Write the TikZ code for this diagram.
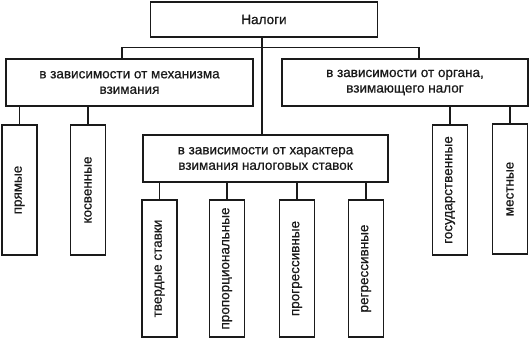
\documentclass[tikz,border=0pt]{standalone}
\usepackage{fontspec}
\setmainfont{Liberation Sans}
\newfontfamily\schemefont[FakeBold=0.7]{Liberation Sans}
\usetikzlibrary{positioning}
\definecolor{SchemeInk}{HTML}{1A1A1A}
\tikzset{
  scheme/.style={x=1pt,y=-1pt,font=\schemefont\fontsize{13.5}{15.5}\selectfont,text=SchemeInk,draw=SchemeInk},
  headbox/.style={draw=SchemeInk,line width=1.1pt,minimum width=227pt,minimum height=35pt,inner sep=0pt},
  groupbox/.style={draw=SchemeInk,line width=1.1pt,align=center,minimum height=47pt,inner sep=0pt},
  leafbox/.style={draw=SchemeInk,line width=1.1pt,rotate=90,minimum height=35pt,inner sep=0pt},
  link/.style={line width=1.1pt,draw=SchemeInk},
}
\begin{document}
\begin{tikzpicture}[scheme]
  \useasboundingbox (0,0) rectangle (530,339);

  % top level
  \node[headbox] (nalogi) at (264,19.5) {Налоги};

  % three groupings
  \node[groupbox,minimum width=247pt] (mech) at (129.5,82.5)
    {в зависимости от механизма\\взимания};
  \node[groupbox,minimum width=246pt] (organ) at (405,82.5)
    {в зависимости от органа,\\взимающего налог};
  \node[groupbox,minimum width=245pt] (rate) at (265.5,158.5)
    {в зависимости от характера\\взимания налоговых ставок};

  % leaves
  \node[leafbox,minimum width=130pt] (direct) at (19.5,190) {прямые};
  \node[leafbox,minimum width=130pt] (indirect) at (88,190) {косвенные};
  \node[leafbox,minimum width=130pt] (state) at (450,190) {государственные};
  \node[leafbox,minimum width=130pt] (local) at (510,189) {местные};
  \node[leafbox,minimum width=137pt] (fixed) at (159.5,268.5) {твердые ставки};
  \node[leafbox,minimum width=137pt] (prop) at (227,268.5) {пропорциональные};
  \node[leafbox,minimum width=137pt] (prog) at (297,268.5) {прогрессивные};
  \node[leafbox,minimum width=137pt] (regr) at (366,268.5) {регрессивные};

  % connectors
  \path (nalogi.south) ++(-2,10) coordinate (fork);
  \draw[link] ([xshift=-2pt]nalogi.south) -- ([xshift=-2pt]nalogi.south |- rate.north);
  \draw[link] ([xshift=-7.5pt]mech.north) |- (fork) -| ([xshift=14pt]organ.north);
  \foreach \leaf in {direct,indirect} \draw[link] (mech.south -| \leaf) -- (\leaf.east);
  \foreach \leaf in {state,local} \draw[link] (organ.south -| \leaf) -- (\leaf.east);
  \foreach \leaf in {fixed,prop,prog,regr} \draw[link] (rate.south -| \leaf) -- (\leaf.east);
\end{tikzpicture}
\end{document}
